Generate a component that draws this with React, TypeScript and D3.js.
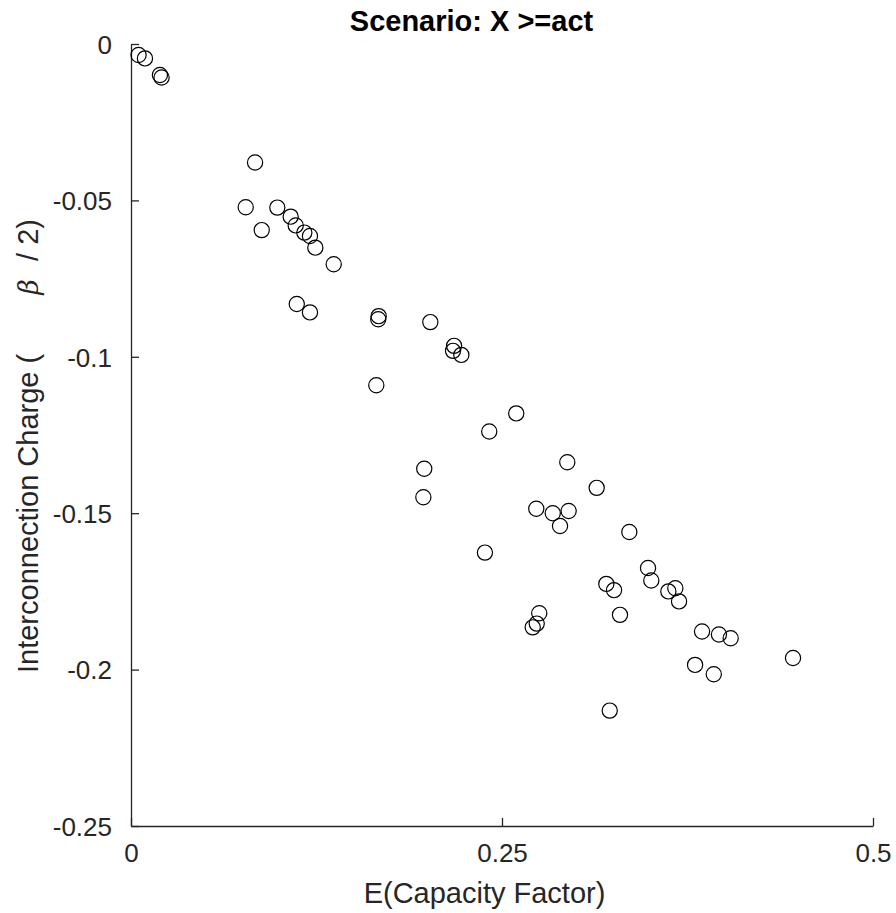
import React, { useEffect, useRef } from "react";
import * as d3 from "d3";

// E(Capacity Factor) per project
const capacityFactor = [
  0.0051, 0.0094, 0.0195, 0.0206,
  0.0836, 0.0773, 0.0986, 0.0881, 0.1076, 0.111, 0.1168, 0.1206, 0.1242,
  0.1366, 0.1117, 0.1206, 0.1669, 0.1666, 0.2017, 0.2177, 0.217, 0.2226,
  0.1653, 0.2596, 0.2414, 0.1976, 0.197, 0.294, 0.3138, 0.2731, 0.2842,
  0.2949, 0.2891, 0.3358, 0.2385, 0.3484, 0.3506, 0.3203, 0.3255, 0.3621,
  0.3668, 0.3693, 0.3295, 0.2751, 0.2734, 0.2707, 0.3848, 0.3962, 0.4041,
  0.3801, 0.3927, 0.3226, 0.4461,
];

// interconnection charge (beta / 2)
const charge = [
  -0.0035, -0.0046, -0.0099, -0.0107,
  -0.0379, -0.0522, -0.0523, -0.0595, -0.0552, -0.058, -0.0603, -0.0614, -0.0651,
  -0.0704, -0.0831, -0.0858, -0.087, -0.088, -0.0889, -0.0965, -0.0981, -0.0994,
  -0.1091, -0.1181, -0.1239, -0.1358, -0.1449, -0.1337, -0.1419, -0.1486, -0.15,
  -0.1493, -0.1541, -0.156, -0.1626, -0.1675, -0.1715, -0.1726, -0.1746, -0.175,
  -0.174, -0.1782, -0.1825, -0.182, -0.1853, -0.1865, -0.1878, -0.1888, -0.19,
  -0.1985, -0.2015, -0.2131, -0.1963,
];

const xTicks = [0, 0.25, 0.5];
const xTickLabels = ["0", "0.25", "0.5"];
const yTicks = [0, -0.05, -0.1, -0.15, -0.2, -0.25];
const yTickLabels = ["0", "-0.05", "-0.1", "-0.15", "-0.2", "-0.25"];

const FONT = "'Liberation Sans', Arial, Helvetica, sans-serif";
const INK = "#262626";

function App() {
  const ref = useRef<SVGSVGElement>(null);

  useEffect(() => {
    const svg = d3.select(ref.current);
    svg.selectAll("*").remove();

    const xScale = d3.scaleLinear().domain([0, 0.5]).range([131, 873]);
    const yScale = d3.scaleLinear().domain([-0.25, 0]).range([826, 44]);

    // axes, ticks pointing inward
    const xAxis = svg
      .append("g")
      .attr("transform", "translate(0,826)")
      .call(
        d3
          .axisBottom(xScale)
          .tickValues(xTicks)
          .tickFormat((d, i) => xTickLabels[i])
          .tickSize(-8)
          .tickSizeOuter(0)
          .tickPadding(18)
      );
    const yAxis = svg
      .append("g")
      .attr("transform", "translate(131,0)")
      .call(
        d3
          .axisLeft(yScale)
          .tickValues(yTicks)
          .tickFormat((d, i) => yTickLabels[i])
          .tickSize(-8)
          .tickSizeOuter(0)
          .tickPadding(19)
      );
    [xAxis, yAxis].forEach((g) => {
      g.attr("font-family", FONT).attr("font-size", 26);
      g.select(".domain").attr("stroke", INK).attr("stroke-width", 1.3);
      g.selectAll(".tick line").attr("stroke", INK).attr("stroke-width", 1.3);
      g.selectAll(".tick text").attr("fill", INK);
    });
    yAxis.selectAll(".tick text").attr("dy", "0.36em");

    // points
    svg
      .append("g")
      .selectAll("circle")
      .data(capacityFactor)
      .join("circle")
      .attr("cx", (d) => xScale(d))
      .attr("cy", (d, i) => yScale(charge[i]))
      .attr("r", 7.6)
      .attr("fill", "none")
      .attr("stroke", "#000")
      .attr("stroke-width", 1.2);

    // title
    svg
      .append("text")
      .attr("x", 471.5)
      .attr("y", 31)
      .attr("text-anchor", "middle")
      .attr("font-family", FONT)
      .attr("font-weight", "bold")
      .attr("font-size", 29)
      .attr("fill", "#000")
      .text("Scenario: X >=act");

    // x label
    svg
      .append("text")
      .attr("x", 484.5)
      .attr("y", 903)
      .attr("text-anchor", "middle")
      .attr("font-family", FONT)
      .attr("font-size", 29)
      .attr("fill", INK)
      .text("E(Capacity Factor)");

    // y label (rotated), pieces placed along the axis
    const yl = svg
      .append("g")
      .attr("transform", "translate(38,0) rotate(-90)")
      .attr("font-family", FONT)
      .attr("font-size", 29)
      .attr("fill", INK);
    yl.append("text").attr("x", -673).attr("y", 0).text("Interconnection Charge (");
    yl.append("text")
      .attr("x", -287)
      .attr("y", 0)
      .attr("text-anchor", "middle")
      .attr("font-family", "'DejaVu Serif', 'Liberation Serif', serif")
      .attr("font-style", "italic")
      .attr("font-size", 27)
      .text("β");
    yl.append("text").attr("x", -219).attr("y", 0).attr("text-anchor", "end").text("/ 2)");
  }, []);

  return (
    <svg
      ref={ref}
      width={896}
      height={913}
      style={{ position: "absolute", left: 0, top: 0, background: "#fff" }}
    />
  );
}

export default App;
